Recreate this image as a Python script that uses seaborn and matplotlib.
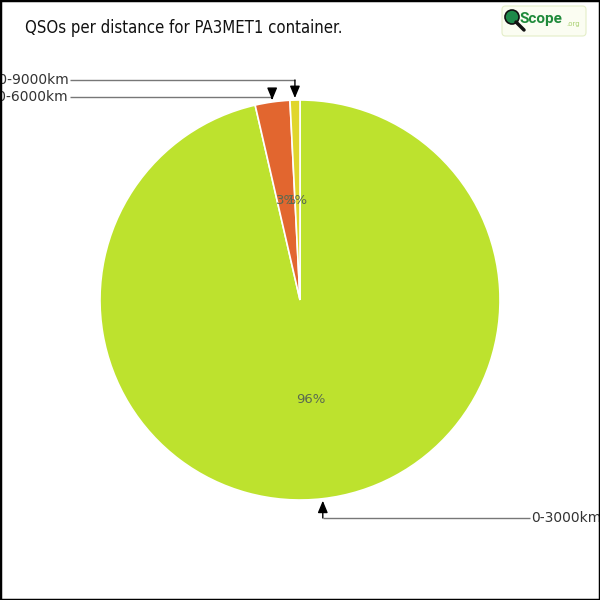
import numpy as np
import matplotlib
matplotlib.use("Agg")
import matplotlib.pyplot as plt
import seaborn as sns
from matplotlib.patches import FancyBboxPatch, Circle, Rectangle

categories = ["0-3000km", "3000-6000km", "6000-9000km"]
values = [96.4, 2.8, 0.8]
colors = ["#BDE22E", "#E2662F", "#E0D62C"]
title = "QSOs per distance for PA3MET1 container."

sns.set_theme(style="white")
plt.rcParams['font.family'] = ['DejaVu Sans']

fig = plt.figure(figsize=(6, 6), dpi=100)
fig.patch.set_facecolor("white")
ax = fig.add_axes([0, 0, 1, 1])

wedges, texts, autotexts = ax.pie(
    values, colors=colors, startangle=90, counterclock=False, radius=1.0,
    autopct=lambda p: f"{p:.0f}%", pctdistance=0.5,
    wedgeprops=dict(edgecolor="white", linewidth=1.2),
    textprops=dict(color="#5a6a50", fontsize=9.5))
ax.set_xlim(-1.5, 1.5)
ax.set_ylim(-1.5, 1.5)
ax.set_aspect("equal")
ax.axis("off")

# label positions (layout only)
label_pos = {"0-3000km": (1.15, -1.09, "left"),
             "3000-6000km": (-1.15, 1.015, "right"),
             "6000-9000km": (-1.15, 1.10, "right")}

total = sum(values)
cum = 0
for cat, v in zip(categories, values):
    mid = cum + v / 2
    cum += v
    theta = np.deg2rad(90 - 360 * mid / total)
    tx, ty = 1.01 * np.cos(theta), 1.01 * np.sin(theta)
    lx, ly, ha = label_pos[cat]
    ex = tx
    ax.plot([lx, ex], [ly, ly], color="#777777", lw=1.0, solid_capstyle="butt")
    ax.annotate("", xy=(tx, ty), xytext=(ex, ly),
                arrowprops=dict(arrowstyle="-|>,head_length=0.6,head_width=0.25",
                                color="#777777", lw=1.0, shrinkA=0, shrinkB=0,
                                fc="black", ec="black"))
    ax.text(lx + (0.005 if ha == "left" else -0.005), ly, cat, ha=ha, va="center",
            fontsize=10, color="#333333")

fig.text(25 / 600, 1 - 28 / 600, title, ha="left", va="center",
         fontsize=12, color="#111111", family=["DejaVu Sans"], fontstretch="condensed")

# logo
logo = FancyBboxPatch((502 / 600, 1 - 36 / 600), 84 / 600, 30 / 600,
                      boxstyle="round,pad=0,rounding_size=0.006",
                      transform=fig.transFigure, fc="#FBFDF2", ec="#E4EEC8", lw=0.8)
fig.add_artist(logo)
fig.add_artist(Circle((512 / 600, 1 - 17 / 600), 7 / 600, transform=fig.transFigure,
                      fc="#1E8A4A", ec="#111111", lw=1.2))
fig.add_artist(plt.Line2D([516 / 600, 524 / 600], [1 - 22 / 600, 1 - 30 / 600],
                          transform=fig.transFigure, color="#111111", lw=2.5))
fig.text(520 / 600, 1 - 19 / 600, "Scope", ha="left", va="center", fontsize=11,
         fontweight="bold", color="#1F8A3A", family=["Roboto", "DejaVu Sans"])
fig.text(566 / 600, 1 - 24 / 600, ".org", ha="left", va="center", fontsize=5,
         color="#A8D070")

# frame
fig.add_artist(Rectangle((0, 0), 1, 1, transform=fig.transFigure, fill=False,
                         ec="black", lw=2.5))

fig.savefig("out.png", dpi=100)
